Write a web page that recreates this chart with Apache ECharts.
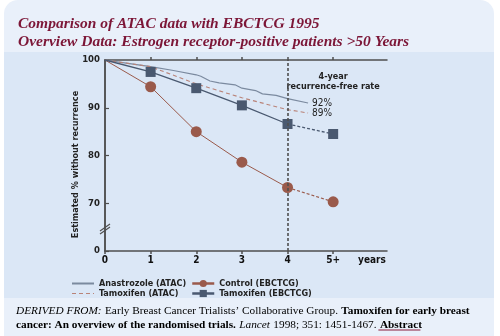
<!DOCTYPE html>
<html><head><meta charset="utf-8">
<script src="https://cdn.jsdelivr.net/npm/echarts@6/dist/echarts.min.js"></script>
<style>
html,body{margin:0;padding:0;background:#fff;width:500px;height:336px;overflow:hidden;}
#card{position:absolute;left:4px;top:0;width:490px;height:336px;background:#e9f0fa;border-radius:14px 14px 0 0;overflow:hidden;}
#band{position:absolute;left:0;top:52px;width:490px;height:246px;background:#dbe7f6;}
#chart{position:absolute;left:0;top:0;width:500px;height:336px;}
</style></head><body>
<div id="card"><div id="band"></div></div>
<div id="chart"></div>
<script>
// ---- data ----
const titleLines = ['Comparison of ATAC data with EBCTCG 1995', 'Overview Data: Estrogen receptor-positive patients >50 Years'];
const yAxisTitle = 'Estimated % without recurrence';
const xTicks = [0, 1, 2, 3, 4, 5];
const xTickLabels = ['0', '1', '2', '3', '4', '5+'];
const xUnitPos = 5.85;
const xUnitLabel = 'years';
const yTicks = [60, 70, 80, 90, 100];
const yTickLabels = ['0', '70', '80', '90', '100'];
const annotationLines = ['4-year', 'recurrence-free rate'];

const seriesNames = ['Anastrozole (ATAC)', 'Tamoxifen (ATAC)', 'Control (EBCTCG)', 'Tamoxifen (EBCTCG)'];

const anastrozoleX = [0, 0.5, 1, 1.5, 2, 2.1, 2.3, 2.5, 2.85, 3.0, 3.3, 3.45, 3.75, 4.0, 4.45];
const anastrozoleY = [100, 99.3, 98.6, 97.8, 96.9, 96.6, 95.6, 95.2, 94.8, 94.1, 93.6, 92.9, 92.6, 91.9, 91.0];
const anastrozoleRate = '92%';

const tamoxAtacX = [0, 1, 2, 3, 4, 4.45];
const tamoxAtacY = [100, 98.6, 95.0, 92.1, 89.6, 88.9];
const tamoxAtacRate = '89%';

const years = [0, 1, 2, 3, 4, 5];
const controlEbctcg = [100, 94.4, 85.0, 78.6, 73.3, 70.3];
const tamoxEbctcg = [100, 97.5, 94.1, 90.5, 86.6, 84.5];

const footerParts = {
  derived: 'DERIVED FROM:',
  group: 'Early Breast Cancer Trialists\u2019 Collaborative Group.',
  titleA: 'Tamoxifen for early breast',
  titleB: 'cancer: An overview of the randomised trials.',
  journal: 'Lancet',
  ref: '1998; 351: 1451-1467.',
  link: 'Abstract'
};

// ---- styles ----
const COND = "'Liberation Sans Narrow','DejaVu Sans Condensed','Liberation Sans',sans-serif";
const SERIF = "'Liberation Serif','DejaVu Serif',serif";
const AXIS = '#4f4f4f';
const C_ANA = '#7b8a9f';
const C_TAM_ATAC = '#b98378';
const C_CTRL = '#9a5a4b';
const C_TAM_EB = '#4a5970';
const FOOT_SIZE = 11.3;

function pts(xs, ys) { return xs.map((x, i) => [x, ys[i]]); }
function withFirstHidden(arr) {
  return arr.map((p, i) => i === 0 ? { value: p, symbol: 'none' } : p);
}

const chart = echarts.init(document.getElementById('chart'), null, { renderer: 'canvas' });

const ctrlSolid = withFirstHidden(pts(years.slice(0, 5), controlEbctcg.slice(0, 5)));
const ctrlDash = withFirstHidden(pts(years.slice(4), controlEbctcg.slice(4)));
const tamSolid = withFirstHidden(pts(years.slice(0, 5), tamoxEbctcg.slice(0, 5)));
const tamDash = withFirstHidden(pts(years.slice(4), tamoxEbctcg.slice(4)));

const labelFont = { fontFamily: COND, fontWeight: 'bold', fontSize: 9, color: '#222' };
const noSymbol = { opacity: 0 };

const option = {
  animation: false,
  backgroundColor: 'transparent',
  title: {
    text: titleLines.join('\n'),
    left: 13, top: 10,
    textStyle: { fontFamily: SERIF, fontStyle: 'italic', fontWeight: 'bold', fontSize: 15.5, lineHeight: 18, color: '#7c1637' }
  },
  grid: { left: 105, right: 113, top: 60, bottom: 85, containLabel: false },
  legend: [
    {
      data: [
        { name: seriesNames[0], itemStyle: noSymbol, lineStyle: { width: 2 } },
        { name: seriesNames[1], itemStyle: noSymbol, lineStyle: { width: 1.2 } }
      ],
      orient: 'vertical', left: 66, top: 274, itemWidth: 22, itemHeight: 9, itemGap: 1,
      textStyle: Object.assign({}, labelFont), selectedMode: false
    },
    {
      data: [
        { name: seriesNames[2], lineStyle: { width: 2.5 } },
        { name: seriesNames[3], lineStyle: { width: 2.5 } }
      ],
      orient: 'vertical', left: 186, top: 274, itemWidth: 22, itemHeight: 9, itemGap: 1,
      textStyle: Object.assign({}, labelFont), selectedMode: false
    }
  ],
  xAxis: [
    {
      type: 'value', min: 0, max: 6.18, position: 'bottom',
      axisLine: { show: true, lineStyle: { color: AXIS, width: 1.5 } },
      axisTick: { show: true, customValues: xTicks, length: 3, inside: false, lineStyle: { color: AXIS, width: 1.5 } },
      axisLabel: {
        customValues: xTicks.concat([xUnitPos]),
        formatter: v => { const i = xTicks.indexOf(v); return i >= 0 ? xTickLabels[i] : (Math.abs(v - xUnitPos) < 1e-6 ? xUnitLabel : ''); },
        fontFamily: COND, fontWeight: 'bold', fontSize: 10, color: '#111', margin: 4
      },
      splitLine: { show: false }
    },
    {
      type: 'value', min: 0, max: 6.18, position: 'top',
      axisLine: { show: true, lineStyle: { color: AXIS, width: 1.5 } },
      axisTick: { show: true, customValues: xTicks.slice(1), length: 3, inside: false, lineStyle: { color: AXIS, width: 1.5 } },
      axisLabel: { show: false },
      splitLine: { show: false }
    }
  ],
  yAxis: [
    {
      type: 'value', min: 60, max: 100, interval: 10, position: 'left',
      axisLine: { show: true, lineStyle: { color: AXIS, width: 1.5 } },
      axisTick: { show: true, inside: true, length: 4, lineStyle: { color: AXIS, width: 1.2 } },
      axisLabel: {
        formatter: v => { const i = yTicks.indexOf(v); return i >= 0 ? yTickLabels[i] : ''; },
        fontFamily: COND, fontWeight: 'bold', fontSize: 9.5, color: '#222', margin: 5
      },
      splitLine: { show: false }
    },
    {
      type: 'value', min: 60, max: 100, interval: 10, position: 'right',
      axisLine: { show: true, lineStyle: { color: AXIS, width: 1.5 } },
      axisTick: { show: false }, axisLabel: { show: false }, splitLine: { show: false }
    }
  ],
  series: [
    {
      name: seriesNames[0], type: 'line', data: pts(anastrozoleX, anastrozoleY),
      symbol: 'none', z: 3,
      lineStyle: { color: C_ANA, width: 1.2 }, itemStyle: { color: C_ANA },
      endLabel: { show: true, formatter: anastrozoleRate, distance: 4, fontFamily: COND, fontSize: 10, color: '#222' }
    },
    {
      name: seriesNames[1], type: 'line', data: pts(tamoxAtacX, tamoxAtacY),
      symbol: 'none', z: 3,
      lineStyle: { color: C_TAM_ATAC, width: 1.1, type: [4, 3] }, itemStyle: { color: C_TAM_ATAC },
      endLabel: { show: true, formatter: tamoxAtacRate, distance: 4, fontFamily: COND, fontSize: 10, color: '#222' }
    },
    {
      name: seriesNames[2], type: 'line', data: ctrlSolid,
      symbol: 'circle', symbolSize: 11, z: 4,
      lineStyle: { color: C_CTRL, width: 1 }, itemStyle: { color: C_CTRL },
      markLine: {
        silent: true, symbol: 'none', label: { show: false },
        lineStyle: { color: AXIS, width: 1.6, type: [3, 2] },
        data: [{ xAxis: 4 }]
      }
    },
    {
      name: seriesNames[2] + ' ', type: 'line', data: ctrlDash,
      symbol: 'circle', symbolSize: 11, z: 4,
      lineStyle: { color: C_CTRL, width: 1.1, type: [3, 2] }, itemStyle: { color: C_CTRL }
    },
    {
      name: seriesNames[3], type: 'line', data: tamSolid,
      symbol: 'rect', symbolSize: 10, z: 4,
      lineStyle: { color: C_TAM_EB, width: 1.3 }, itemStyle: { color: C_TAM_EB }
    },
    {
      name: seriesNames[3] + ' ', type: 'line', data: tamDash,
      symbol: 'rect', symbolSize: 10, z: 4,
      lineStyle: { color: C_TAM_EB, width: 1.3, type: [3, 2] }, itemStyle: { color: C_TAM_EB }
    }
  ]
};
chart.setOption(option);

// ---- decorations positioned through the axes ----
const px = (x, y) => chart.convertToPixel({ xAxisIndex: 0, yAxisIndex: 0 }, [x, y]);
const axisLeft = px(0, 60);
const brk = px(0, 64.8);
const annTop = px(5, 97.6);
const plotTop = px(0, 100);
const plotBot = px(0, 60);
const midY = (plotTop[1] + plotBot[1]) / 2 + 9;

const footerText =
  '{i|' + footerParts.derived + '} {n|' + footerParts.group + '} {b|' + footerParts.titleA + '}\n' +
  '{b|' + footerParts.titleB + '} {i2|' + footerParts.journal + '} {n|' + footerParts.ref + '} {a|' + footerParts.link + '}';

// measure second footer line to underline the link
const mctx = document.createElement('canvas').getContext('2d');
function tw(font, s) { mctx.font = font; return mctx.measureText(s).width; }
const FS = FOOT_SIZE + 'px ' + SERIF;
const footLeft = 16, footTop = 304, footLH = 14;
const beforeLink =
  tw('bold ' + FS, footerParts.titleB) + tw(FS, ' ') +
  tw('italic ' + FS, footerParts.journal) + tw(FS, ' ') +
  tw(FS, footerParts.ref) + tw(FS, ' ');
const linkW = tw('bold ' + FS, footerParts.link);
const ulY = footTop + footLH * 2 - 2;

const fontRich = (extra, color) => Object.assign({ fontFamily: SERIF, fontSize: FOOT_SIZE, color: color, lineHeight: footLH }, extra);

chart.setOption({
  graphic: [
    { type: 'line', shape: { x1: brk[0] - 5, y1: brk[1] + 3, x2: brk[0] + 5, y2: brk[1] - 4 }, style: { stroke: AXIS, lineWidth: 1.2 }, z: 10 },
    { type: 'line', shape: { x1: brk[0] - 5, y1: brk[1] + 6, x2: brk[0] + 5, y2: brk[1] - 1 }, style: { stroke: AXIS, lineWidth: 1.2 }, z: 10 },
    {
      type: 'text', x: annTop[0], y: annTop[1],
      style: { text: annotationLines.join('\n'), align: 'center', verticalAlign: 'top', font: "bold 9px " + COND, fill: '#222', lineHeight: 10 }
    },
    {
      type: 'text', x: axisLeft[0] - 29, y: midY, rotation: Math.PI / 2,
      style: { text: yAxisTitle, align: 'center', verticalAlign: 'middle', font: "bold 9px " + COND, fill: '#222' }
    },
    {
      type: 'text', x: footLeft, y: footTop,
      style: {
        text: footerText, lineHeight: footLH,
        rich: {
          i: fontRich({ fontStyle: 'italic' }, '#8a1d3d'),
          n: fontRich({}, '#555'),
          b: fontRich({ fontWeight: 'bold' }, '#222'),
          i2: fontRich({ fontStyle: 'italic' }, '#222'),
          a: fontRich({ fontWeight: 'bold' }, '#8a1d3d')
        }
      }
    },
    {
      type: 'line', shape: { x1: footLeft + beforeLink, y1: ulY, x2: footLeft + beforeLink + linkW, y2: ulY },
      style: { stroke: '#8a1d3d', lineWidth: 1 }
    }
  ]
});
</script>
</body></html>
